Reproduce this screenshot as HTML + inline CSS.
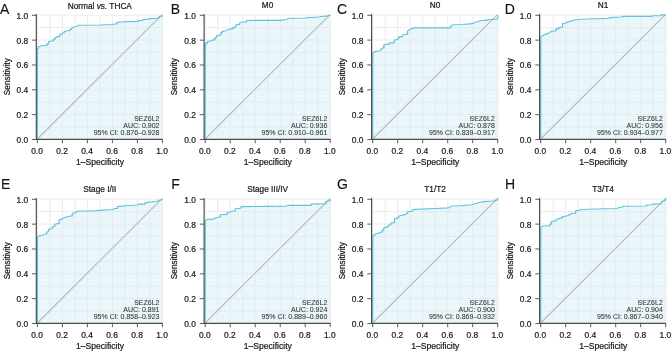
<!DOCTYPE html>
<html><head><meta charset="utf-8"><style>
html,body{margin:0;padding:0;background:#fff;}
svg{display:block;will-change:transform;}
text{font-family:"Liberation Sans",sans-serif;}
</style></head><body>
<svg width="672" height="352" viewBox="0 0 672 352">
<defs>
<path id="grid" d="M37.4 15.2V139.4M37.4 139.4H162.4M49.9 15.2V139.4M37.4 126.98H162.4M62.4 15.2V139.4M37.4 114.56H162.4M74.9 15.2V139.4M37.4 102.14H162.4M87.4 15.2V139.4M37.4 89.72H162.4M99.9 15.2V139.4M37.4 77.3H162.4M112.4 15.2V139.4M37.4 64.88H162.4M124.9 15.2V139.4M37.4 52.46H162.4M137.4 15.2V139.4M37.4 40.04H162.4M149.9 15.2V139.4M37.4 27.62H162.4M162.4 15.2V139.4M37.4 15.2H162.4" fill="none" stroke="#ebebeb" stroke-width="1"/>
<g id="axes"><path d="M36.3 14V139.8M35.8 139.3H162.7" fill="none" stroke="#4a4a4a" stroke-width="1.15"/>
<path d="M32 139.5H36.3M37.4 139.3V143.2M32 114.66H36.3M62.4 139.3V143.2M32 89.82H36.3M87.4 139.3V143.2M32 64.98H36.3M112.4 139.3V143.2M32 40.14H36.3M137.4 139.3V143.2M32 15.3H36.3M162.4 139.3V143.2" fill="none" stroke="#5a5a5a" stroke-width="1"/>
<text x="28.2" y="143" font-size="8.4" text-anchor="end" fill="#1a1a1a" stroke="#1a1a1a" stroke-width="0.22">0.0</text>
<text x="37" y="154.2" font-size="8.4" text-anchor="middle" fill="#1a1a1a" stroke="#1a1a1a" stroke-width="0.22">0.0</text>
<text x="28.2" y="118.16" font-size="8.4" text-anchor="end" fill="#1a1a1a" stroke="#1a1a1a" stroke-width="0.22">0.2</text>
<text x="62" y="154.2" font-size="8.4" text-anchor="middle" fill="#1a1a1a" stroke="#1a1a1a" stroke-width="0.22">0.2</text>
<text x="28.2" y="93.32" font-size="8.4" text-anchor="end" fill="#1a1a1a" stroke="#1a1a1a" stroke-width="0.22">0.4</text>
<text x="87" y="154.2" font-size="8.4" text-anchor="middle" fill="#1a1a1a" stroke="#1a1a1a" stroke-width="0.22">0.4</text>
<text x="28.2" y="68.48" font-size="8.4" text-anchor="end" fill="#1a1a1a" stroke="#1a1a1a" stroke-width="0.22">0.6</text>
<text x="112" y="154.2" font-size="8.4" text-anchor="middle" fill="#1a1a1a" stroke="#1a1a1a" stroke-width="0.22">0.6</text>
<text x="28.2" y="43.64" font-size="8.4" text-anchor="end" fill="#1a1a1a" stroke="#1a1a1a" stroke-width="0.22">0.8</text>
<text x="137" y="154.2" font-size="8.4" text-anchor="middle" fill="#1a1a1a" stroke="#1a1a1a" stroke-width="0.22">0.8</text>
<text x="28.2" y="18.8" font-size="8.4" text-anchor="end" fill="#1a1a1a" stroke="#1a1a1a" stroke-width="0.22">1.0</text>
<text x="162" y="154.2" font-size="8.4" text-anchor="middle" fill="#1a1a1a" stroke="#1a1a1a" stroke-width="0.22">1.0</text>
<text x="100" y="164.8" font-size="8.6" text-anchor="middle" fill="#1a1a1a" stroke="#1a1a1a" stroke-width="0.22">1&#8211;Specificity</text>
<text transform="translate(9.6 76.6) rotate(-90)" font-size="8.27" text-anchor="middle" fill="#1a1a1a" stroke="#1a1a1a" stroke-width="0.22">Sensitivity</text></g>
</defs>
<g transform="translate(0 0)">
<use href="#grid"/>
<path d="M37.4 139.4L37.5 48.25L38.5 48.25L38.5 46.75L40.38 46L44.75 45.5L46.62 45.5L46.62 43.88L48.5 43.88L48.5 41.75L51.62 41L53.5 41L53.5 38.88L55.38 38.88L55.38 37.62L57.88 36.62L59.75 36.62L59.75 34.25L62.25 34.25L62.25 33L64.12 33L64.12 31.75L67.25 30.75L69.75 30.75L69.75 29.5L71.62 29.5L71.62 28.25L72.25 27.5L74.75 26.75L77.25 26L79.12 25.25L100 25L111.88 24.5L115 24L116.88 24L116.88 22.62L120 22L137.5 21.38L138.75 20.75L142.5 20.38L143.75 19.75L148.75 18.88L157.5 18.25L158.75 18.25L158.75 16.75L161.88 16.12L162.4 15.2L162.4 139.4Z" fill="rgba(213,238,244,0.5)"/>
<path d="M37.4 139L162.4 14.3" stroke="#b3bbbd" stroke-width="1.1"/>
<path d="M37.4 139.4L37.5 48.25L38.5 48.25L38.5 46.75L40.38 46L44.75 45.5L46.62 45.5L46.62 43.88L48.5 43.88L48.5 41.75L51.62 41L53.5 41L53.5 38.88L55.38 38.88L55.38 37.62L57.88 36.62L59.75 36.62L59.75 34.25L62.25 34.25L62.25 33L64.12 33L64.12 31.75L67.25 30.75L69.75 30.75L69.75 29.5L71.62 29.5L71.62 28.25L72.25 27.5L74.75 26.75L77.25 26L79.12 25.25L100 25L111.88 24.5L115 24L116.88 24L116.88 22.62L120 22L137.5 21.38L138.75 20.75L142.5 20.38L143.75 19.75L148.75 18.88L157.5 18.25L158.75 18.25L158.75 16.75L161.88 16.12L162.4 15.2" fill="none" stroke="#62c3dc" stroke-width="1.2" stroke-linejoin="round"/>
<use href="#axes"/>
<text x="0" y="13.8" font-size="14" fill="#111" stroke="#111" stroke-width="0.12">A</text>
<text x="99.8" y="8.5" font-size="8.27" text-anchor="middle" fill="#1a1a1a" stroke="#1a1a1a" stroke-width="0.22">Normal <tspan font-style="italic">vs.</tspan> THCA</text>
<text x="159.5" y="120.75" font-size="7" text-anchor="end" fill="#383838" stroke="#383838" stroke-width="0.08">SEZ6L2</text>
<text x="159.5" y="127.9" font-size="7" text-anchor="end" fill="#383838" stroke="#383838" stroke-width="0.08">AUC: 0.902</text>
<text x="159.5" y="135" font-size="7" text-anchor="end" fill="#383838" stroke="#383838" stroke-width="0.08">95% CI: 0.876&#8211;0.928</text>
</g>
<g transform="translate(167.8 0)">
<use href="#grid"/>
<path d="M37.4 139.4L37.5 43.88L38.7 43.88L38.7 42.62L39.95 42.62L39.95 41.38L43.08 41L44.95 40.12L46.2 40.12L46.2 38.88L47.45 38.88L47.45 37.62L48.7 37.62L48.7 35.75L51.82 35.12L53.08 35.12L53.08 32.62L54.32 32.62L54.32 31.38L58.08 30.75L59.95 29.75L62.45 28.88L64.95 28.88L64.95 27.62L67.45 27.62L67.45 26.38L68.08 26.38L68.08 24.75L70.58 24.5L71.82 24.5L71.82 23L74.95 22L78.7 22L78.7 20.5L100.2 20.38L114.58 20.38L115.82 19.5L118.95 19.25L120.2 18.5L137.7 18L140.2 17.62L151.45 17L152.7 16.5L158.95 16.12L160.2 15.5L162.4 15.2L162.4 139.4Z" fill="rgba(213,238,244,0.5)"/>
<path d="M37.4 139L162.4 14.3" stroke="#b3bbbd" stroke-width="1.1"/>
<path d="M37.4 139.4L37.5 43.88L38.7 43.88L38.7 42.62L39.95 42.62L39.95 41.38L43.08 41L44.95 40.12L46.2 40.12L46.2 38.88L47.45 38.88L47.45 37.62L48.7 37.62L48.7 35.75L51.82 35.12L53.08 35.12L53.08 32.62L54.32 32.62L54.32 31.38L58.08 30.75L59.95 29.75L62.45 28.88L64.95 28.88L64.95 27.62L67.45 27.62L67.45 26.38L68.08 26.38L68.08 24.75L70.58 24.5L71.82 24.5L71.82 23L74.95 22L78.7 22L78.7 20.5L100.2 20.38L114.58 20.38L115.82 19.5L118.95 19.25L120.2 18.5L137.7 18L140.2 17.62L151.45 17L152.7 16.5L158.95 16.12L160.2 15.5L162.4 15.2" fill="none" stroke="#62c3dc" stroke-width="1.2" stroke-linejoin="round"/>
<use href="#axes"/>
<text x="2.9" y="13.8" font-size="14" fill="#111" stroke="#111" stroke-width="0.12">B</text>
<text x="99.8" y="8" font-size="8.27" text-anchor="middle" fill="#1a1a1a" stroke="#1a1a1a" stroke-width="0.22">M0</text>
<text x="159.5" y="120.75" font-size="7" text-anchor="end" fill="#383838" stroke="#383838" stroke-width="0.08">SEZ6L2</text>
<text x="159.5" y="127.9" font-size="7" text-anchor="end" fill="#383838" stroke="#383838" stroke-width="0.08">AUC: 0.936</text>
<text x="159.5" y="135" font-size="7" text-anchor="end" fill="#383838" stroke="#383838" stroke-width="0.08">95% CI: 0.910&#8211;0.961</text>
</g>
<g transform="translate(335.3 0)">
<use href="#grid"/>
<path d="M37.4 139.4L37.5 53.5L37.95 52.5L39.2 51.62L43.58 51L45.45 50L46.08 50L46.08 48.5L47.95 47.88L48.58 47.88L48.58 44.75L51.7 44.12L54.2 44.12L54.2 42.88L58.58 42.88L58.58 41.62L59.2 41.62L59.2 39.75L62.32 39.75L62.32 38.5L63.58 38.5L63.58 36.62L67.32 36.62L67.32 35.38L67.95 34.5L71.7 34.12L72.32 34.12L72.32 30.75L74.2 29.75L76.08 28.75L79.2 27.88L100.7 27.88L113.2 27.88L115.08 27.88L115.08 26.75L115.7 26.75L115.7 25.5L118.2 24.75L125.7 24.5L134.45 23.88L138.2 23.25L139.45 22.25L142.58 21.75L144.45 20.75L151.95 20.12L153.2 19.5L159.45 19.25L161.95 19.25L161.95 18L162.58 18L162.58 16.38L162.4 15.2L162.4 139.4Z" fill="rgba(213,238,244,0.5)"/>
<path d="M37.4 139L162.4 14.3" stroke="#b3bbbd" stroke-width="1.1"/>
<path d="M37.4 139.4L37.5 53.5L37.95 52.5L39.2 51.62L43.58 51L45.45 50L46.08 50L46.08 48.5L47.95 47.88L48.58 47.88L48.58 44.75L51.7 44.12L54.2 44.12L54.2 42.88L58.58 42.88L58.58 41.62L59.2 41.62L59.2 39.75L62.32 39.75L62.32 38.5L63.58 38.5L63.58 36.62L67.32 36.62L67.32 35.38L67.95 34.5L71.7 34.12L72.32 34.12L72.32 30.75L74.2 29.75L76.08 28.75L79.2 27.88L100.7 27.88L113.2 27.88L115.08 27.88L115.08 26.75L115.7 26.75L115.7 25.5L118.2 24.75L125.7 24.5L134.45 23.88L138.2 23.25L139.45 22.25L142.58 21.75L144.45 20.75L151.95 20.12L153.2 19.5L159.45 19.25L161.95 19.25L161.95 18L162.58 18L162.58 16.38L162.4 15.2" fill="none" stroke="#62c3dc" stroke-width="1.2" stroke-linejoin="round"/>
<use href="#axes"/>
<text x="1.7" y="13.8" font-size="14" fill="#111" stroke="#111" stroke-width="0.12">C</text>
<text x="99.8" y="8" font-size="8.27" text-anchor="middle" fill="#1a1a1a" stroke="#1a1a1a" stroke-width="0.22">N0</text>
<text x="159.5" y="120.75" font-size="7" text-anchor="end" fill="#383838" stroke="#383838" stroke-width="0.08">SEZ6L2</text>
<text x="159.5" y="127.9" font-size="7" text-anchor="end" fill="#383838" stroke="#383838" stroke-width="0.08">AUC: 0.878</text>
<text x="159.5" y="135" font-size="7" text-anchor="end" fill="#383838" stroke="#383838" stroke-width="0.08">95% CI: 0.839&#8211;0.917</text>
</g>
<g transform="translate(503.3 0)">
<use href="#grid"/>
<path d="M37.4 139.4L37.5 37L37.95 36.38L39.2 35.75L41.08 34.75L43.58 33.88L45.45 33.25L46.08 32.25L47.95 31.75L48.58 31L51.7 31L52.32 31L52.32 28.88L55.45 28.88L55.45 27.62L59.2 27L59.2 23.5L62.95 23L63.58 22.25L66.7 21.38L69.2 20.5L72.95 19.75L77.95 19.25L100.7 18.5L105.7 18.25L106.32 17.62L118.2 17L119.45 16.38L148.2 16.38L149.45 15.75L157.58 15.75L158.2 15.75L158.2 14.5L162.4 15.2L162.4 139.4Z" fill="rgba(213,238,244,0.5)"/>
<path d="M37.4 139L162.4 14.3" stroke="#b3bbbd" stroke-width="1.1"/>
<path d="M37.4 139.4L37.5 37L37.95 36.38L39.2 35.75L41.08 34.75L43.58 33.88L45.45 33.25L46.08 32.25L47.95 31.75L48.58 31L51.7 31L52.32 31L52.32 28.88L55.45 28.88L55.45 27.62L59.2 27L59.2 23.5L62.95 23L63.58 22.25L66.7 21.38L69.2 20.5L72.95 19.75L77.95 19.25L100.7 18.5L105.7 18.25L106.32 17.62L118.2 17L119.45 16.38L148.2 16.38L149.45 15.75L157.58 15.75L158.2 15.75L158.2 14.5L162.4 15.2" fill="none" stroke="#62c3dc" stroke-width="1.2" stroke-linejoin="round"/>
<use href="#axes"/>
<text x="1.5" y="13.8" font-size="14" fill="#111" stroke="#111" stroke-width="0.12">D</text>
<text x="99.8" y="8" font-size="8.27" text-anchor="middle" fill="#1a1a1a" stroke="#1a1a1a" stroke-width="0.22">N1</text>
<text x="159.5" y="120.75" font-size="7" text-anchor="end" fill="#383838" stroke="#383838" stroke-width="0.08">SEZ6L2</text>
<text x="159.5" y="127.9" font-size="7" text-anchor="end" fill="#383838" stroke="#383838" stroke-width="0.08">AUC: 0.956</text>
<text x="159.5" y="135" font-size="7" text-anchor="end" fill="#383838" stroke="#383838" stroke-width="0.08">95% CI: 0.934&#8211;0.977</text>
</g>
<g transform="translate(0 184)">
<use href="#grid"/>
<path d="M37.4 139.4L37.5 53.25L37.88 52.25L39.75 51.62L42.88 51L45.38 50L46.62 50L46.62 48.25L48.5 47.25L48.5 45.38L51 44.75L52.25 44.75L52.25 42.88L54.12 42.25L54.75 42.25L54.75 40.38L57.88 39.5L59.12 39.5L59.12 36L61 35.38L62.88 34.5L64.75 33.5L67.88 32.5L71 32L72.25 32L72.25 29.5L74.75 28.75L76.62 27.88L78.5 27L94.75 27L96 26.62L100 26.38L112.5 25.5L115 24.5L117.5 24.5L117.5 22.62L125 21.75L137.5 21L138.75 20.12L145 20.12L145 18.88L150 18L157.5 17.25L158.75 16.38L161.88 15.75L162.4 15.2L162.4 139.4Z" fill="rgba(213,238,244,0.5)"/>
<path d="M37.4 139L162.4 14.3" stroke="#b3bbbd" stroke-width="1.1"/>
<path d="M37.4 139.4L37.5 53.25L37.88 52.25L39.75 51.62L42.88 51L45.38 50L46.62 50L46.62 48.25L48.5 47.25L48.5 45.38L51 44.75L52.25 44.75L52.25 42.88L54.12 42.25L54.75 42.25L54.75 40.38L57.88 39.5L59.12 39.5L59.12 36L61 35.38L62.88 34.5L64.75 33.5L67.88 32.5L71 32L72.25 32L72.25 29.5L74.75 28.75L76.62 27.88L78.5 27L94.75 27L96 26.62L100 26.38L112.5 25.5L115 24.5L117.5 24.5L117.5 22.62L125 21.75L137.5 21L138.75 20.12L145 20.12L145 18.88L150 18L157.5 17.25L158.75 16.38L161.88 15.75L162.4 15.2" fill="none" stroke="#62c3dc" stroke-width="1.2" stroke-linejoin="round"/>
<use href="#axes"/>
<text x="0.9" y="4.8" font-size="14" fill="#111" stroke="#111" stroke-width="0.12">E</text>
<text x="99.8" y="8" font-size="8.27" text-anchor="middle" fill="#1a1a1a" stroke="#1a1a1a" stroke-width="0.22">Stage I/II</text>
<text x="159.5" y="120.75" font-size="7" text-anchor="end" fill="#383838" stroke="#383838" stroke-width="0.08">SEZ6L2</text>
<text x="159.5" y="127.9" font-size="7" text-anchor="end" fill="#383838" stroke="#383838" stroke-width="0.08">AUC: 0.891</text>
<text x="159.5" y="135" font-size="7" text-anchor="end" fill="#383838" stroke="#383838" stroke-width="0.08">95% CI: 0.858&#8211;0.923</text>
</g>
<g transform="translate(167.8 184)">
<use href="#grid"/>
<path d="M37.4 139.4L37.5 37L38.08 36.38L39.32 35.38L44.95 35.12L47.45 34.25L48.7 33.5L51.82 33L52.45 33L52.45 30.75L58.08 30.5L59.32 30.5L59.32 28.88L62.45 28L63.7 27.25L66.82 27L67.45 27L67.45 24.75L70.58 24.5L72.45 24.5L72.45 23.25L74.95 22.62L100.2 22.38L118.32 22.25L119.58 21.38L142.08 21.38L143.32 21.38L143.32 20.12L157.08 19.75L158.32 19.75L158.32 17.62L161.45 16.75L162.4 16.75L162.4 15.2L162.4 139.4Z" fill="rgba(213,238,244,0.5)"/>
<path d="M37.4 139L162.4 14.3" stroke="#b3bbbd" stroke-width="1.1"/>
<path d="M37.4 139.4L37.5 37L38.08 36.38L39.32 35.38L44.95 35.12L47.45 34.25L48.7 33.5L51.82 33L52.45 33L52.45 30.75L58.08 30.5L59.32 30.5L59.32 28.88L62.45 28L63.7 27.25L66.82 27L67.45 27L67.45 24.75L70.58 24.5L72.45 24.5L72.45 23.25L74.95 22.62L100.2 22.38L118.32 22.25L119.58 21.38L142.08 21.38L143.32 21.38L143.32 20.12L157.08 19.75L158.32 19.75L158.32 17.62L161.45 16.75L162.4 16.75L162.4 15.2" fill="none" stroke="#62c3dc" stroke-width="1.2" stroke-linejoin="round"/>
<use href="#axes"/>
<text x="3.4" y="4.8" font-size="14" fill="#111" stroke="#111" stroke-width="0.12">F</text>
<text x="99.8" y="8" font-size="8.27" text-anchor="middle" fill="#1a1a1a" stroke="#1a1a1a" stroke-width="0.22">Stage III/IV</text>
<text x="159.5" y="120.75" font-size="7" text-anchor="end" fill="#383838" stroke="#383838" stroke-width="0.08">SEZ6L2</text>
<text x="159.5" y="127.9" font-size="7" text-anchor="end" fill="#383838" stroke="#383838" stroke-width="0.08">AUC: 0.924</text>
<text x="159.5" y="135" font-size="7" text-anchor="end" fill="#383838" stroke="#383838" stroke-width="0.08">95% CI: 0.889&#8211;0.960</text>
</g>
<g transform="translate(335.3 184)">
<use href="#grid"/>
<path d="M37.4 139.4L37.5 52L38.2 51.25L39.82 51.25L39.82 50L43.58 49.12L45.45 48.25L46.7 48.25L46.7 46.62L47.95 46.62L47.95 45.38L48.58 45.38L48.58 43.75L51.7 42.88L52.95 42.88L52.95 41L55.45 41L55.45 39.12L58.58 38.5L59.2 38.5L59.2 34.75L61.7 34.75L61.7 33.5L63.58 33.5L63.58 32L66.7 31.25L69.82 30.38L71.7 29.5L72.32 29.5L72.32 27.88L75.45 27.25L77.32 27.25L77.32 26L79.2 25.38L100.7 24.5L113.2 23.88L114.45 23L116.95 22L125.7 21.75L136.95 20.75L138.82 19.75L141.95 19.25L143.82 18.5L148.2 17.62L158.2 17L159.45 16.38L161.95 16L162.58 16L162.58 14.5L162.4 15.2L162.4 139.4Z" fill="rgba(213,238,244,0.5)"/>
<path d="M37.4 139L162.4 14.3" stroke="#b3bbbd" stroke-width="1.1"/>
<path d="M37.4 139.4L37.5 52L38.2 51.25L39.82 51.25L39.82 50L43.58 49.12L45.45 48.25L46.7 48.25L46.7 46.62L47.95 46.62L47.95 45.38L48.58 45.38L48.58 43.75L51.7 42.88L52.95 42.88L52.95 41L55.45 41L55.45 39.12L58.58 38.5L59.2 38.5L59.2 34.75L61.7 34.75L61.7 33.5L63.58 33.5L63.58 32L66.7 31.25L69.82 30.38L71.7 29.5L72.32 29.5L72.32 27.88L75.45 27.25L77.32 27.25L77.32 26L79.2 25.38L100.7 24.5L113.2 23.88L114.45 23L116.95 22L125.7 21.75L136.95 20.75L138.82 19.75L141.95 19.25L143.82 18.5L148.2 17.62L158.2 17L159.45 16.38L161.95 16L162.58 16L162.58 14.5L162.4 15.2" fill="none" stroke="#62c3dc" stroke-width="1.2" stroke-linejoin="round"/>
<use href="#axes"/>
<text x="1.7" y="4.8" font-size="14" fill="#111" stroke="#111" stroke-width="0.12">G</text>
<text x="99.8" y="8" font-size="8.27" text-anchor="middle" fill="#1a1a1a" stroke="#1a1a1a" stroke-width="0.22">T1/T2</text>
<text x="159.5" y="120.75" font-size="7" text-anchor="end" fill="#383838" stroke="#383838" stroke-width="0.08">SEZ6L2</text>
<text x="159.5" y="127.9" font-size="7" text-anchor="end" fill="#383838" stroke="#383838" stroke-width="0.08">AUC: 0.900</text>
<text x="159.5" y="135" font-size="7" text-anchor="end" fill="#383838" stroke="#383838" stroke-width="0.08">95% CI: 0.869&#8211;0.932</text>
</g>
<g transform="translate(503.3 184)">
<use href="#grid"/>
<path d="M37.4 139.4L37.5 43.88L37.95 43L39.2 42L45.45 41.75L46.7 41.75L46.7 40.12L47.95 40.12L47.95 37.62L51.7 37L52.32 37L52.32 35.75L54.82 35.75L54.82 34.5L58.58 33.88L59.2 33.88L59.2 32.62L62.95 32L64.82 31.38L66.7 30.5L67.95 29.5L71.08 29.25L72.32 29.25L72.32 26.75L75.45 26.38L77.95 25.5L100.7 24.75L114.45 24.5L115.08 23.5L118.82 23.25L119.45 22.25L142.58 22L143.82 21L148.82 20.75L149.45 20.12L156.95 19.75L158.2 19.75L158.2 17.25L160.7 17L161.95 16L162.58 16L162.58 14.5L162.4 15.2L162.4 139.4Z" fill="rgba(213,238,244,0.5)"/>
<path d="M37.4 139L162.4 14.3" stroke="#b3bbbd" stroke-width="1.1"/>
<path d="M37.4 139.4L37.5 43.88L37.95 43L39.2 42L45.45 41.75L46.7 41.75L46.7 40.12L47.95 40.12L47.95 37.62L51.7 37L52.32 37L52.32 35.75L54.82 35.75L54.82 34.5L58.58 33.88L59.2 33.88L59.2 32.62L62.95 32L64.82 31.38L66.7 30.5L67.95 29.5L71.08 29.25L72.32 29.25L72.32 26.75L75.45 26.38L77.95 25.5L100.7 24.75L114.45 24.5L115.08 23.5L118.82 23.25L119.45 22.25L142.58 22L143.82 21L148.82 20.75L149.45 20.12L156.95 19.75L158.2 19.75L158.2 17.25L160.7 17L161.95 16L162.58 16L162.58 14.5L162.4 15.2" fill="none" stroke="#62c3dc" stroke-width="1.2" stroke-linejoin="round"/>
<use href="#axes"/>
<text x="1.8" y="4.8" font-size="14" fill="#111" stroke="#111" stroke-width="0.12">H</text>
<text x="99.8" y="8" font-size="8.27" text-anchor="middle" fill="#1a1a1a" stroke="#1a1a1a" stroke-width="0.22">T3/T4</text>
<text x="159.5" y="120.75" font-size="7" text-anchor="end" fill="#383838" stroke="#383838" stroke-width="0.08">SEZ6L2</text>
<text x="159.5" y="127.9" font-size="7" text-anchor="end" fill="#383838" stroke="#383838" stroke-width="0.08">AUC: 0.904</text>
<text x="159.5" y="135" font-size="7" text-anchor="end" fill="#383838" stroke="#383838" stroke-width="0.08">95% CI: 0.867&#8211;0.940</text>
</g>
</svg>
</body></html>
